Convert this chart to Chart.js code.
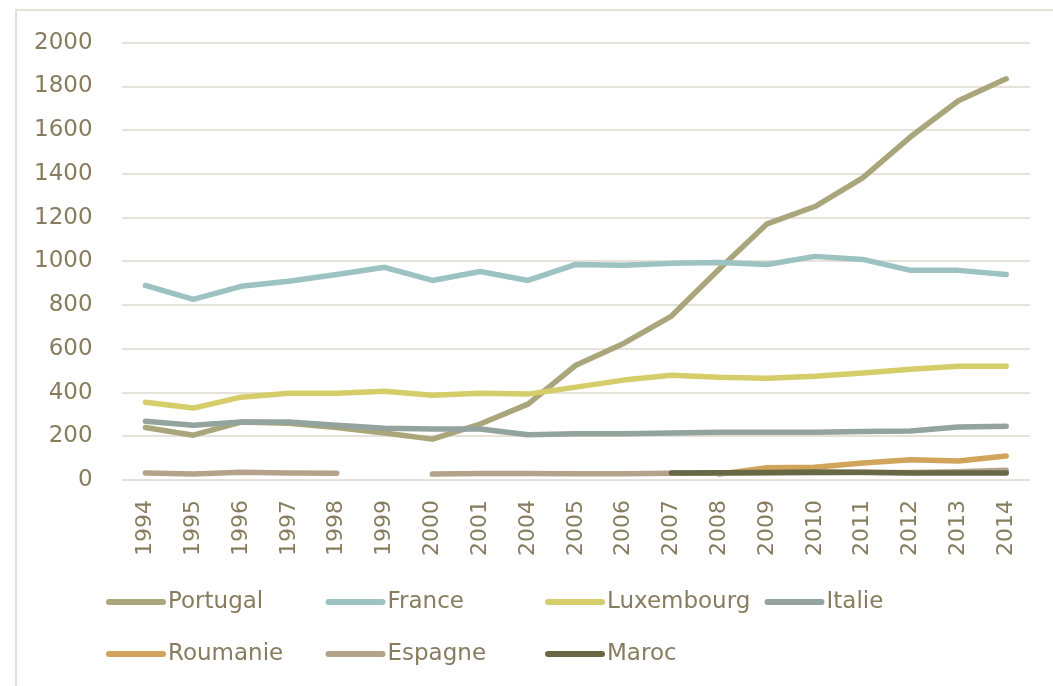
<!DOCTYPE html>
<html>
<head>
<meta charset="utf-8">
<script src="https://cdn.jsdelivr.net/npm/chart.js@4/dist/chart.umd.min.js"></script>
<style>
  body { margin: 0; background: #fff; }
  #wrap { position: relative; width: 1053px; height: 686px; overflow: hidden; }
  #frame { position: absolute; left: 15px; top: 9px; right: -10px; bottom: -10px;
           border-left: 2px solid #e4e0d6; border-top: 2px solid #e4e0d6; }
  canvas { position: absolute; left: 0; top: 0; }
</style>
</head>
<body>
<div id="wrap">
  <div id="frame"></div>
  <canvas id="chart" width="1053" height="686"></canvas>
</div>
<script>
// years on the axis (2002 and 2003 are not in the source)
const years = ["1994", "1995", "1996", "1997", "1998", "1999", "2000", "2001", "2004", "2005",
               "2006", "2007", "2008", "2009", "2010", "2011", "2012", "2013", "2014"];

const portugal   = [240, 205, 265, 260, 240, 215, 187, 256, 347, 525, 625, 750, 965, 1172, 1251, 1382, 1570, 1735, 1835];
const france     = [890, 826, 886, 909, 940, 973, 913, 954, 913, 986, 982, 991, 995, 986, 1023, 1009, 959, 959, 940];
const luxembourg = [356, 329, 379, 397, 397, 406, 388, 397, 393, 425, 457, 479, 470, 466, 475, 489, 507, 520, 520];
const italie     = [269, 251, 265, 265, 251, 237, 233, 233, 207, 212, 212, 215, 219, 219, 219, 222, 224, 242, 246];
const roumanie   = [null, null, null, null, null, null, null, null, null, null, null, null, 27, 56, 58, 78, 93, 87, 110];
const espagne    = [32, 27, 36, 32, 31, null, 27, 30, 30, 29, 29, 31, 31, 32, 33, 34, 34, 38, 45];
const maroc      = [null, null, null, null, null, null, null, null, null, null, null, 32, 33, 34, 37, 35, 32, 32, 32];

const seriesNames = ["Portugal", "France", "Luxembourg", "Italie", "Roumanie", "Espagne", "Maroc"];
const seriesData = [portugal, france, luxembourg, italie, roumanie, espagne, maroc];
const seriesColors = ["#aaa67c", "#9cc2c2", "#d5cd69", "#93a39d", "#d0a45a", "#b5a28a", "#696845"];

const textColor = "#877c5e";
const font = "'DejaVu Sans', sans-serif";

// legend laid out in a 4-column grid under the axis
const gridLegend = {
  id: "gridLegend",
  afterDraw(chart) {
    const c = chart.ctx;
    c.save();
    c.font = "23px " + font;
    c.textBaseline = "middle";
    chart.data.datasets.forEach((ds, i) => {
      const x = 109 + (i % 4) * 219.5;
      const y = 602 + Math.floor(i / 4) * 52;
      c.strokeStyle = ds.borderColor;
      c.lineWidth = 6;
      c.lineCap = "round";
      c.beginPath();
      c.moveTo(x, y);
      c.lineTo(x + 54, y);
      c.stroke();
      c.fillStyle = textColor;
      c.fillText(ds.label, x + 59, y);
    });
    c.restore();
  }
};

new Chart(document.getElementById("chart"), {
  type: "line",
  data: {
    labels: years,
    datasets: seriesNames.map((name, i) => ({
      label: name,
      data: seriesData[i],
      borderColor: seriesColors[i],
      backgroundColor: seriesColors[i],
      borderWidth: 5.5,
      borderCapStyle: "round",
      borderJoinStyle: "round",
      pointRadius: 0,
      tension: 0,
      spanGaps: false,
      order: seriesNames.length - i
    }))
  },
  options: {
    responsive: false,
    animation: false,
    layout: { padding: { left: 5, right: 15, top: 41, bottom: 110 } },
    plugins: {
      legend: { display: false },
      tooltip: { enabled: false }
    },
    scales: {
      x: {
        offset: true,
        grid: { display: false, drawTicks: false },
        border: { display: false },
        ticks: {
          color: textColor,
          font: { family: font, size: 22 },
          minRotation: 90,
          maxRotation: 90,
          padding: 20,
          autoSkip: false
        }
      },
      y: {
        min: 0,
        max: 2000,
        grid: { color: "#e6e2d9", lineWidth: 2, drawTicks: false },
        border: { display: false },
        ticks: {
          stepSize: 200,
          color: textColor,
          font: { family: font, size: 23 },
          padding: 29,
          callback: v => String(v)
        }
      }
    }
  },
  plugins: [gridLegend]
});
</script>
</body>
</html>
